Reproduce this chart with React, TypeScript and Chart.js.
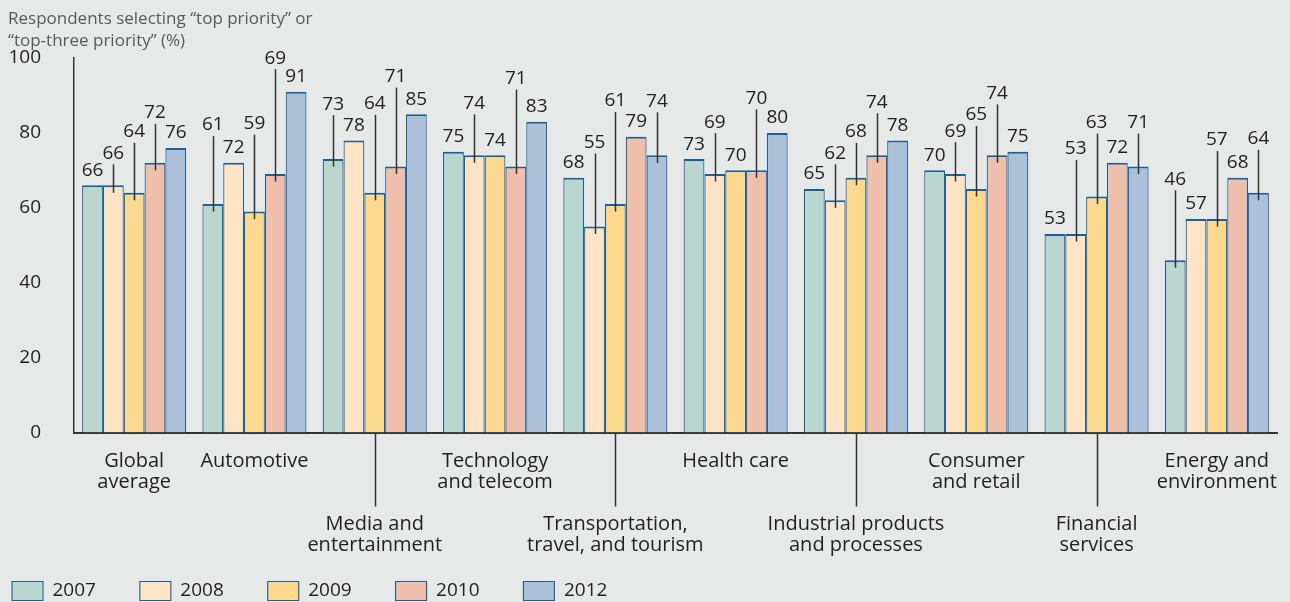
import { useEffect, useRef } from "react";
import { Chart, registerables } from "chart.js";

Chart.register(...registerables);

// ---------- data ----------
const years = ["2007", "2008", "2009", "2010", "2012"];

const categories: string[][] = [
  ["Global", "average"],
  ["Automotive"],
  ["Media and", "entertainment"],
  ["Technology", "and telecom"],
  ["Transportation,", "travel, and tourism"],
  ["Health care"],
  ["Industrial products", "and processes"],
  ["Consumer", "and retail"],
  ["Financial", "services"],
  ["Energy and", "environment"],
];
// categories whose name sits on the lower row, with a leader line
const lowerRow = [false, false, true, false, true, false, true, false, true, false];

const values2007 = [66, 61, 73, 75, 68, 73, 65, 70, 53, 46];
const values2008 = [66, 72, 78, 74, 55, 69, 62, 69, 53, 57];
const values2009 = [64, 59, 64, 74, 61, 70, 68, 65, 63, 57];
const values2010 = [72, 69, 71, 71, 79, 70, 74, 74, 72, 68];
const values2012 = [76, 91, 85, 83, 74, 80, 78, 75, 71, 64];

const yTicks = [0, 20, 40, 60, 80, 100];
const axisTitle = ["Respondents selecting \u201ctop priority\u201d or", "\u201ctop-three priority\u201d (%)"];

// label layout: how far (px) each value label is raised above its bar; 0 = directly on top
const lift2007 = [0, 79, 55, 0, 0, 0, 0, 0, 0, 81];
const lift2008 = [32, 0, 0, 52, 84, 52, 47, 43, 85, 0];
const lift2009 = [61, 88, 89, 0, 103, 0, 46, 74, 74, 79];
const lift2010 = [50, 116, 90, 88, 0, 72, 53, 62, 0, 0];
const lift2012 = [0, 0, 0, 0, 54, 0, 0, 0, 44, 54];

// ---------- styles ----------
const FONT = "'Open Sans', sans-serif";
const TEXT = "#231f20";
const BG = "#e7e8e8";
const BORDER = "#1d5f92";
const fills = ["#bad7cf", "#fee3c5", "#fdd98f", "#efbfac", "#adc0d9"];
const seriesValues = [values2007, values2008, values2009, values2010, values2012];
const seriesLifts = [lift2007, lift2008, lift2009, lift2010, lift2012];
const LEGEND_GAP = "\u2003\u2003\u200A";

const valueLabels = {
  id: "valueLabels",
  afterDatasetsDraw(chart: any) {
    const ctx = chart.ctx;
    ctx.save();
    ctx.font = `19px ${FONT}`;
    ctx.textAlign = "center";
    ctx.textBaseline = "middle";
    ctx.strokeStyle = "#333333";
    ctx.lineWidth = 1.5;
    chart.data.datasets.forEach((ds: any, d: number) => {
      const meta = chart.getDatasetMeta(d);
      meta.data.forEach((bar: any, i: number) => {
        const lift = seriesLifts[d][i];
        const top = bar.y;
        const ly = top - (lift || 15);
        if (lift) {
          ctx.beginPath();
          ctx.moveTo(Math.round(bar.x) + 0.5, ly + 11);
          ctx.lineTo(Math.round(bar.x) + 0.5, top + 7.5);
          ctx.stroke();
        }
      });
    });
    ctx.fillStyle = TEXT;
    chart.data.datasets.forEach((ds: any, d: number) => {
      const meta = chart.getDatasetMeta(d);
      meta.data.forEach((bar: any, i: number) => {
        const lift = seriesLifts[d][i];
        const ly = bar.y - (lift || 15);
        ctx.fillText(String(ds.data[i]), bar.x, ly);
      });
    });
    ctx.restore();
  },
};

const categoryLeaders = {
  id: "categoryLeaders",
  afterDraw(chart: any) {
    const ctx = chart.ctx;
    const xs = chart.scales.x;
    const bottom = chart.chartArea.bottom;
    ctx.save();
    ctx.strokeStyle = "#333333";
    ctx.lineWidth = 1.5;
    lowerRow.forEach((low, i) => {
      if (!low) return;
      const x = Math.round(xs.getPixelForTick(i)) + 0.5;
      ctx.beginPath();
      ctx.moveTo(x, bottom);
      ctx.lineTo(x, bottom + 74);
      ctx.stroke();
    });
    ctx.restore();
  },
};

export default function App() {
  const ref = useRef<HTMLCanvasElement | null>(null);

  useEffect(() => {
    if (!ref.current) return;
    const labels = categories.map((lines, i) => (lowerRow[i] ? ["", "", "", ...lines] : lines));
    const chart = new Chart(ref.current, {
      type: "bar",
      data: {
        labels,
        datasets: years.map((y, d) => ({
          label: y,
          data: seriesValues[d],
          backgroundColor: fills[d],
          borderColor: BORDER,
          borderWidth: { top: 2, left: 1.2, right: 1.2, bottom: 0 },
          borderSkipped: "bottom",
          categoryPercentage: 0.865,
          barPercentage: 1,
        })),
      },
      options: {
        animation: false,
        responsive: false,
        devicePixelRatio: 1,
        layout: { padding: { left: 8, top: 0, right: 13, bottom: -8.5 } },
        plugins: {
          tooltip: { enabled: false },
          title: {
            display: true,
            text: axisTitle,
            align: "start",
            color: "#58595b",
            font: { family: FONT, size: 17, lineHeight: "22px", weight: "normal" },
            padding: { top: 8, bottom: 6 },
          },
          legend: {
            display: true,
            position: "bottom",
            align: "start",
            labels: {
              color: TEXT,
              font: { family: FONT, size: 19 },
              boxWidth: 31,
              boxHeight: 19,
              padding: 4,
              generateLabels: (c: any) =>
                Chart.defaults.plugins.legend.labels
                  .generateLabels(c)
                  .map((l: any) => ({ ...l, text: l.text + LEGEND_GAP })),
            },
          },
        },
        scales: {
          x: {
            grid: { display: false, drawTicks: false },
            border: { display: true, color: "#333333", width: 2 },
            ticks: {
              color: TEXT,
              font: { family: FONT, size: 20, lineHeight: 1.05 },
              padding: 18,
              maxRotation: 0,
              autoSkip: false,
            },
            afterFit: (s: any) => {
              s.height = 145;
              s.paddingLeft = 0;
              s.paddingRight = 0;
            },
          },
          y: {
            min: 0,
            max: 100,
            grid: { display: false, drawTicks: false },
            border: { display: true, color: "#333333", width: 1.5 },
            ticks: {
              color: TEXT,
              font: { family: FONT, size: 19 },
              padding: 33,
            },
            afterBuildTicks: (s: any) => {
              s.ticks = yTicks.map((v) => ({ value: v }));
            },
            afterFit: (s: any) => {
              s.width = 66;
            },
          },
        },
      },
      plugins: [valueLabels, categoryLeaders],
    } as any);
    return () => chart.destroy();
  }, []);

  return (
    <div style={{ position: "fixed", left: 0, top: 0, width: 1290, height: 602, background: BG }}>
      <canvas ref={ref} width={1290} height={602} style={{ display: "block" }} />
    </div>
  );
}
